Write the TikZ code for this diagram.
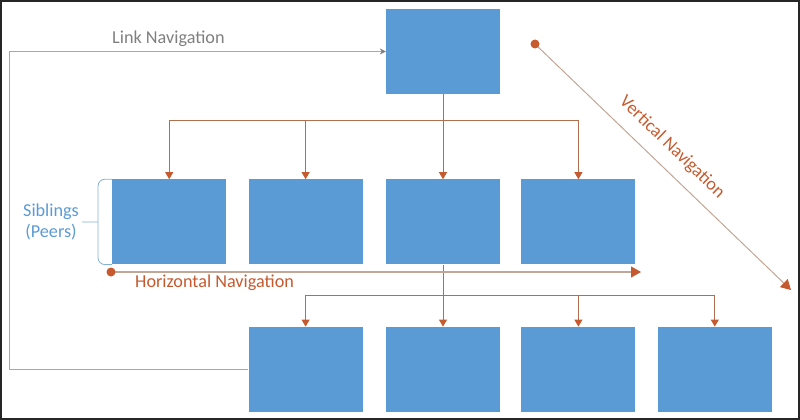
\documentclass[tikz,border=0pt]{standalone}
\usepackage{fontspec}
\setmainfont{Carlito}
\usetikzlibrary{positioning,arrows.meta}
\definecolor{boxblue}{HTML}{5B9BD5}
\definecolor{navorange}{HTML}{C65A2E}
\definecolor{treeline}{HTML}{B0704F}
\definecolor{navline}{HTML}{C2A696}
\definecolor{linkblue}{HTML}{86B2D2}
\definecolor{linkgray}{HTML}{7F7F7F}
\tikzset{
  pagebox/.style={fill=boxblue,minimum width=114pt,minimum height=85pt,inner sep=0pt},
  tree/.style={draw=treeline,line width=0.8pt,-{Triangle[width=8pt,length=7pt,color=navorange]}},
  nav/.style={draw=navline,line width=1.2pt,-{Triangle[width=11pt,length=10pt,color=navorange]}},
  link/.style={draw=linkblue,line width=0.9pt,-{Stealth[width=6pt,length=6pt,color=linkgray]}},
  brace/.style={draw=linkblue,line width=0.8pt},
  lbl/.style={font=\fontsize{18.2}{21}\selectfont,inner sep=0pt},
  navdot/.style={fill=navorange}
}

\begin{document}
\begin{tikzpicture}[x=1pt,y=-1pt,node distance=23pt]
    \useasboundingbox (0,0) rectangle (800,420);
    \draw[line width=2pt,black!85] (1,1) rectangle (799,419);
    % top page and first level
    \node[pagebox] (top) at (443,51.5) {};
    \node[pagebox,below=85pt of top] (c3) {};
    \node[pagebox,left=of c3] (c2) {};
    \node[pagebox,left=22pt of c2] (c1) {};
    \node[pagebox,right=21pt of c3] (c4) {};
    % second level
    \node[pagebox,below=62pt of c2] (g1) {};
    \node[pagebox,right=of g1] (g2) {};
    \node[pagebox,right=21pt of g2] (g3) {};
    \node[pagebox,right=22pt of g3] (g4) {};
    \coordinate[below=26pt of top.south] (bus1);
    \coordinate[below=31pt of c3.south] (bus2);
    \draw[tree] (top.south) -- (bus1) -| (c1.north);
    \draw[tree] (bus1) -| (c2.north);
    \draw[tree] (bus1) -- (c3.north);
    \draw[tree] (bus1) -| (c4.north);
    \draw[tree] (c3.south) -- (bus2) -| (g1.north);
    \draw[tree] (bus2) -- (g2.north);
    \draw[tree] (bus2) -| (g3.north);
    \draw[tree] (bus2) -| (g4.north);
    % link navigation
    \coordinate (lk) at (9,51.5);
    \draw[link] (g1.west) -| (lk) -- (top.west);
    \node[lbl,text=linkgray,anchor=base west] (linklbl) at (112,44) {Link Navigation};
    % siblings
    \node[lbl,text=boxblue,align=center] (sib) at (51,222) {Siblings\\(Peers)};
    \coordinate (br) at ([xshift=-14pt]c1.west);
    \draw[brace,rounded corners=7pt] (c1.north west) -- ([xshift=-14pt]c1.north west) -- ([xshift=-14pt]c1.south west) -- (c1.south west);
    \draw[brace] (br) -- ([xshift=3pt]sib.east);
    % horizontal navigation
    \coordinate (hs) at (111,272);
    \coordinate (he) at (641,272);
    \draw[nav] (hs) -- (he);
    \fill[navdot] (hs) circle (4.5pt);
    \node[lbl,text=navorange,anchor=base west] (hlbl) at (135,287) {Horizontal Navigation};
    % vertical navigation
    \coordinate (vs) at (535,44);
    \coordinate (ve) at (791,290);
    \draw[nav,line width=1pt] (vs) -- (ve) node[lbl,text=navorange,sloped,above=12pt,pos=0.48] (vlbl) {Vertical Navigation};
    \fill[navdot] (vs) circle (4.5pt);
\end{tikzpicture}
\end{document}
